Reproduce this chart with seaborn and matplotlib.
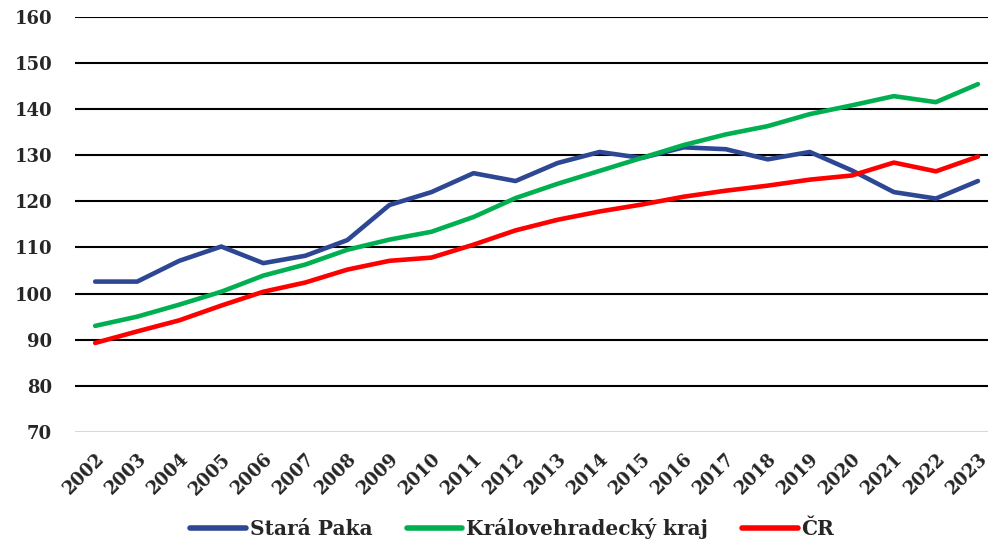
import matplotlib
matplotlib.use("Agg")
import matplotlib.pyplot as plt
import seaborn as sns
import pandas as pd

years = list(range(2002, 2024))
stara_paka = [102.6, 102.6, 107.1, 110.2, 106.6, 108.2, 111.6, 119.2, 122.0, 126.1, 124.4,
              128.3, 130.7, 129.4, 131.7, 131.3, 129.1, 130.7, 126.7, 122.0, 120.6, 124.4]
kralovehradecky = [93.0, 95.0, 97.6, 100.4, 103.9, 106.3, 109.5, 111.7, 113.4, 116.6, 120.7,
                   123.8, 126.6, 129.4, 132.2, 134.5, 136.3, 138.9, 140.8, 142.8, 141.5, 145.4]
cr = [89.3, 91.8, 94.2, 97.4, 100.4, 102.4, 105.2, 107.1, 107.8, 110.6, 113.7,
      116.0, 117.8, 119.3, 121.0, 122.3, 123.4, 124.7, 125.6, 128.4, 126.5, 129.7]
series_names = ["Stará Paka", "Královehradecký kraj", "ČR"]
colors = ["#2E4795", "#00B050", "#FF0000"]
y_ticks = list(range(70, 161, 10))

df = pd.DataFrame({
    "year": years * 3,
    "value": stara_paka + kralovehradecky + cr,
    "series": [series_names[0]] * len(years) + [series_names[1]] * len(years) + [series_names[2]] * len(years),
})

sns.set_style("white")
plt.rcParams["font.family"] = ["DejaVu Serif", "DejaVu Sans"]

fig = plt.figure(figsize=(9.89, 5.42), dpi=100)
ax = fig.add_axes([0.076, 0.203, 0.923, 0.766])

sns.lineplot(data=df, x="year", y="value", hue="series", hue_order=series_names,
             palette=colors, linewidth=3.3, ax=ax, legend=True)
for ln in ax.get_lines():
    ln.set_solid_capstyle("round")
    ln.set_solid_joinstyle("round")

ax.set_xlim(2002 - 0.476, 2023 + 0.24)
ax.set_ylim(70, 160)
ax.set_yticks(y_ticks)
ax.set_xticks(years)
ax.set_xticklabels([str(y) for y in years], rotation=45, ha="right",
                   rotation_mode="anchor", fontsize=13, fontweight="bold")
ax.set_yticklabels([str(v) for v in y_ticks], fontsize=13, fontweight="bold")
ax.tick_params(axis="both", length=0)
ax.tick_params(axis="y", pad=16.5)
ax.tick_params(axis="x", pad=13)
ax.set_xlabel("")
ax.set_ylabel("")

ax.yaxis.grid(True, color="black", linewidth=1.5)
ax.get_ygridlines()[0].set_color("#d9d9d9")
ax.set_axisbelow(True)
for s in ax.spines.values():
    s.set_visible(False)

handles, labels = ax.get_legend_handles_labels()
for h in handles:
    h.set_linewidth(4)
    h.set_solid_capstyle("round")
ax.legend(handles, labels, loc="lower center", bbox_to_anchor=(0.479, -0.302),
          ncol=3, frameon=False, handlelength=2.75, handletextpad=0.2, columnspacing=1.7,
          prop={"family": "DejaVu Serif", "weight": "bold", "size": 14.5})

fig.savefig("out.png", dpi=100)
